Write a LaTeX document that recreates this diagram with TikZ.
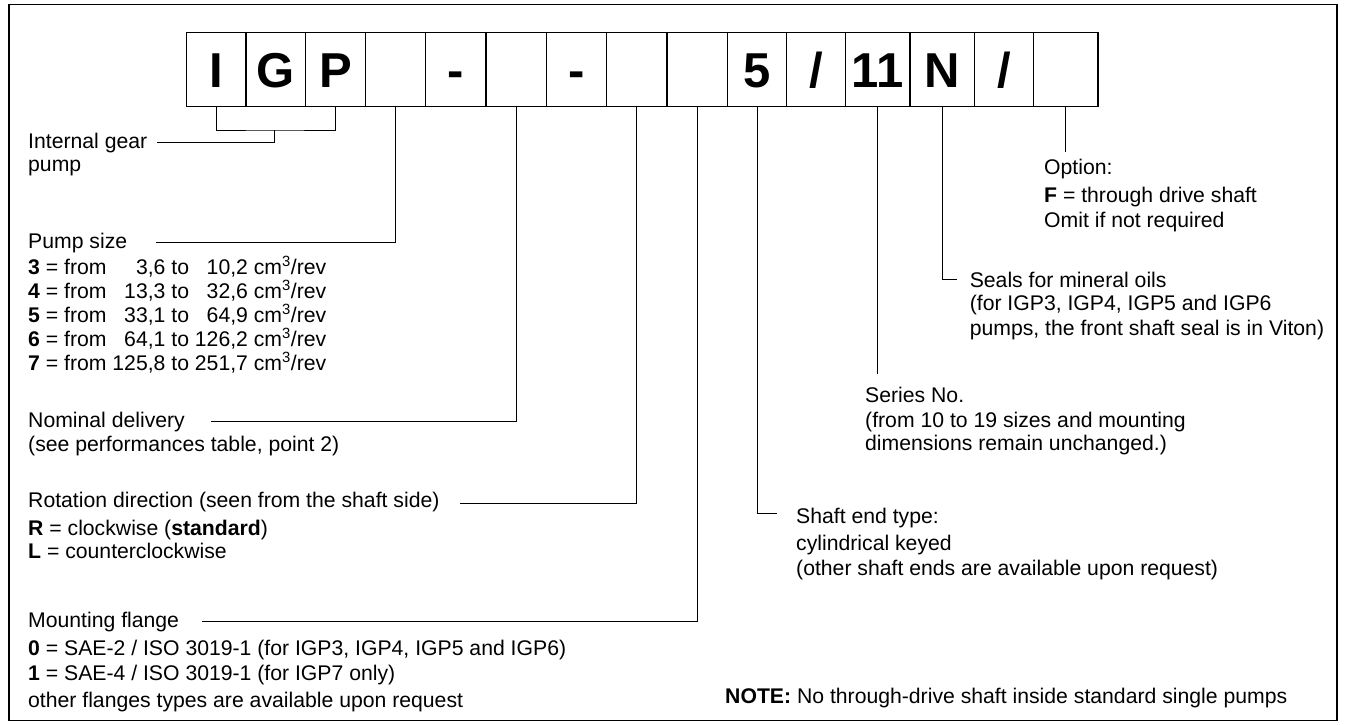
\documentclass[tikz,border=0pt]{standalone}
\usepackage{fontspec}
\setmainfont{Liberation Sans}
\usetikzlibrary{positioning}

\tikzset{
  cellbox/.style={draw, line width=1.2pt, minimum height=74.4pt, inner sep=0pt,
    text height=35.1pt, text depth=0pt,
    font=\fontsize{49}{50}\selectfont\bfseries},
  lbl/.style={anchor=north west, inner sep=0pt, align=left,
    font=\fontsize{21.2}{24}\selectfont},
  lead/.style={line width=1pt}
}

\begin{document}
\begin{tikzpicture}[x=1pt,y=-1pt]
	\useasboundingbox (0,0) rectangle (1345,725);
	\draw[line width=1.3pt] (9,4.7) rectangle (1337,720.5);
	\foreach \n/\x/\w/\t in {0/216.1/59.6/I, 1/275.75/59.7/G, 2/335.65/60.1/P, 3/395.75/60.1/{},
		4/455.85/60.1/-, 5/516.1/60.4/{}, 6/576.35/60.1/-, 7/636.65/60.5/{}, 8/697.15/60.5/{},
		9/757.05/59.3/5, 10/816/58.6/{/}, 11/877.6/64.6/11, 12/942.2/64.6/N, 13/1003.9/58.8/{/},
		14/1065.65/64.7/{}}
		\node[cellbox, minimum width=\w pt] (c\n) at (\x,69.5) {\t};
	\node[lbl] (igp) at (28,131.4) {\strut Internal gear\\[-1pt]pump};
	\node[lbl] (psz) at (28,231.4) {\strut Pump size\\
		\textbf{3} = from \phantom{12}3,6 to \phantom{1}10,2 cm\textsuperscript{3}/rev\\
		\textbf{4} = from \phantom{1}13,3 to \phantom{1}32,6 cm\textsuperscript{3}/rev\\
		\textbf{5} = from \phantom{1}33,1 to \phantom{1}64,9 cm\textsuperscript{3}/rev\\
		\textbf{6} = from \phantom{1}64,1 to 126,2 cm\textsuperscript{3}/rev\\
		\textbf{7} = from 125,8 to 251,7 cm\textsuperscript{3}/rev};
	\node[lbl] (nom) at (28,410) {\strut Nominal delivery\\(see performances table, point 2)};
	\node[lbl] (rot) at (28,490.7) {\strut Rotation direction (seen from the shaft side)\\[4pt]
		\textbf{R} = clockwise (\textbf{standard})\\[-1pt]
		\textbf{L} = counterclockwise};
	\node[lbl] (mnt) at (28,610.7) {\strut Mounting flange\\[4pt]
		\textbf{0} = SAE-2 / ISO 3019-1 (for IGP3, IGP4, IGP5 and IGP6)\\[1pt]
		\textbf{1} = SAE-4 / ISO 3019-1 (for IGP7 only)\\[3pt]
		other flanges types are available upon request};
	\node[lbl] (opt) at (1044,157.4) {\strut Option:\\[4pt]
		\textbf{F} = through drive shaft\\[1pt]
		Omit if not required};
	\node[lbl] (seal) at (969.6,270.7) {\strut Seals for mineral oils\\[-1pt]
		(for IGP3, IGP4, IGP5 and IGP6\\[1pt]
		pumps, the front shaft seal is in Viton)};
	\node[lbl] (ser) at (865,385.7) {\strut Series No.\\[1pt]
		(from 10 to 19 sizes and mounting\\[-1pt]
		dimensions remain unchanged.)};
	\node[lbl] (sft) at (796,506.7) {\strut Shaft end type:\\[3pt]
		cylindrical keyed\\[1pt]
		(other shaft ends are available upon request)};
	\node[lbl] (note) at (725,686.7) {\strut\textbf{NOTE:} No through-drive shaft inside standard single pumps};
	\coordinate (brk) at (274,130);
	\coordinate (igpend) at (157,142.7);
	\coordinate (pszend) at (156,242.7);
	\coordinate (nomend) at (211,421.7);
	\coordinate (rotend) at (460,503.3);
	\coordinate (mntend) at (202,621.7);
	\coordinate (sftend) at (777,513.3);
	\coordinate (serend) at (877.6,374);
	\coordinate (sealend) at (957.3,279.3);
	\coordinate (optend) at (1065.65,151.7);
	\draw[lead] (c0.south) |- (brk) -| (c2.south);
	\draw[lead] (brk) |- (igpend);
	\draw[lead] (c3.south) |- (pszend);
	\draw[lead] (c5.south) |- (nomend);
	\draw[lead] (c7.south) |- (rotend);
	\draw[lead] (c8.south) |- (mntend);
	\draw[lead] (c9.south) |- (sftend);
	\draw[lead] (c11.south) -- (serend);
	\draw[lead] (c12.south) |- (sealend);
	\draw[lead] (c14.south) -- (optend);
\end{tikzpicture}
\end{document}
